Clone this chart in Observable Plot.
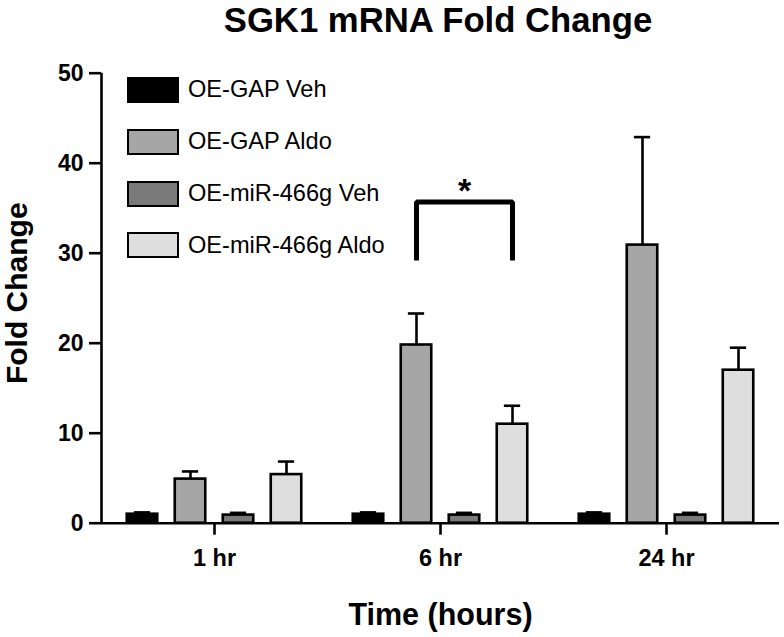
<!DOCTYPE html>
<html><head><meta charset="utf-8">
<script src="https://cdn.jsdelivr.net/npm/d3@7"></script>
<script src="https://cdn.jsdelivr.net/npm/@observablehq/plot@0.6"></script>
<style>
body{margin:0;background:#fff;font-family:"Liberation Sans",Arial,Helvetica,sans-serif;color:#000}
#wrap{position:relative;width:784px;height:637px;overflow:hidden}
#title{width:784px;height:44px;line-height:40px;font-size:34.7px;font-weight:bold;text-align:center;padding-left:92px;box-sizing:border-box;white-space:nowrap}
#legend{position:absolute;left:127px;top:0;width:320px;height:300px}
.row{position:absolute;left:0;height:26px;display:flex;align-items:center}
.sw{width:52px;height:26px;box-sizing:border-box;border:2.5px solid #000}
.lab{margin-left:9px;font-size:23.6px;white-space:nowrap}
svg{display:block}
</style></head>
<body>
<div id="wrap">
  <div id="title">SGK1 mRNA Fold Change</div>
  <div id="chart"></div>
  <div id="legend"></div>
</div>
<script>
// ---- data ----
const times = ["1 hr", "6 hr", "24 hr"];
const groups = ["OE-GAP Veh", "OE-GAP Aldo", "OE-miR-466g Veh", "OE-miR-466g Aldo"];
const colors = ["#000000", "#a6a6a6", "#7a7a7a", "#dedede"];

const meanGapVeh  = [1.0, 1.0, 1.0];
const meanGapAldo = [4.9, 19.8, 30.9];
const meanMirVeh  = [0.9, 0.9, 0.9];
const meanMirAldo = [5.4, 11.0, 17.0];

const upperGapVeh  = [1.2, 1.2, 1.2];
const upperGapAldo = [5.75, 23.3, 42.9];
const upperMirVeh  = [1.15, 1.15, 1.15];
const upperMirAldo = [6.85, 13.05, 19.5];

const yTicks = [0, 10, 20, 30, 40, 50];
const yDomain = [0, 50];

const sigTime = "6 hr";
const sigFrom = "OE-GAP Aldo";
const sigTo = "OE-miR-466g Aldo";
const sigTop = 35.7;
const sigBottom = 29.2;
const sigLabel = "*";

const xLabel = "Time (hours)";
const yLabel = "Fold Change";

// ---- layout ----
const step = 0.2124;      // distance between bar centres, in group units
const barHalf = 0.0675;   // half bar width
const capHalf = 0.036;    // half error-cap width
const xDomain = [0.5, times.length + 0.5];

const means = [meanGapVeh, meanGapAldo, meanMirVeh, meanMirAldo];
const uppers = [upperGapVeh, upperGapAldo, upperMirVeh, upperMirAldo];

const centre = (time, group) => times.indexOf(time) + 1 + (groups.indexOf(group) - (groups.length - 1) / 2) * step;

const rows = [];
times.forEach((t, ti) => groups.forEach((g, gi) => {
  rows.push({time: t, group: g, mean: means[gi][ti], upper: uppers[gi][ti], c: centre(t, g)});
}));

const bracket = [
  {x: centre(sigTime, sigFrom), y: sigBottom},
  {x: centre(sigTime, sigFrom), y: sigTop},
  {x: centre(sigTime, sigTo), y: sigTop},
  {x: centre(sigTime, sigTo), y: sigBottom}
];
const star = [{x: (centre(sigTime, sigFrom) + centre(sigTime, sigTo)) / 2, y: sigTop, label: sigLabel}];

const font = '"Liberation Sans", Arial, Helvetica, sans-serif';

const chart = Plot.plot({
  width: 784,
  height: 593,
  marginLeft: 101,
  marginRight: 5,
  marginTop: 28.7,
  marginBottom: 114.3,
  style: {fontFamily: font, color: "#000", background: "#fff", overflow: "visible"},
  x: {type: "linear", domain: xDomain},
  y: {domain: yDomain},
  color: {type: "ordinal", domain: groups, range: colors},
  marks: [
    Plot.rectY(rows, {x1: d => d.c - barHalf, x2: d => d.c + barHalf, y1: 0, y2: "mean", fill: "group", stroke: "#000", strokeWidth: 2.6}),
    Plot.ruleX(rows, {x: "c", y1: "mean", y2: "upper", stroke: "#000", strokeWidth: 2.6}),
    Plot.ruleY(rows, {y: "upper", x1: d => d.c - capHalf, x2: d => d.c + capHalf, stroke: "#000", strokeWidth: 2.6}),
    Plot.ruleY([yDomain[0]], {stroke: "#000", strokeWidth: 2.6}),
    Plot.ruleX([xDomain[0]], {y1: yDomain[0], y2: yDomain[1], stroke: "#000", strokeWidth: 2.6}),
    Plot.axisY({ticks: yTicks, tickSize: 12, tickPadding: 6, strokeWidth: 2.6, fontSize: 23, fontWeight: "bold", label: null}),
    Plot.axisX({ticks: times.map((t, i) => i + 1), tickFormat: d => times[d - 1], tickSize: 12, tickPadding: 14, strokeWidth: 2.6, fontSize: 23.5, fontWeight: "bold", label: null}),
    Plot.line(bracket, {x: "x", y: "y", stroke: "#000", strokeWidth: 5, strokeLinejoin: "miter", strokeLinecap: "butt"}),
    Plot.text(star, {x: "x", y: "y", text: "label", fontSize: 34, fontWeight: "bold", lineAnchor: "middle", dy: -11}),
    Plot.text([xLabel], {frameAnchor: "bottom", lineAnchor: "top", dy: 80, fontSize: 30.5, fontWeight: "bold"}),
    Plot.text([yLabel], {frameAnchor: "left", rotate: -90, lineAnchor: "middle", textAnchor: "middle", dx: -84.6, dy: -5, fontSize: 30, fontWeight: "bold"})
  ]
});
document.getElementById("chart").appendChild(chart);

// ---- legend ----
const rowCentres = [89.7, 141.5, 193.5, 245.3];
const legend = document.getElementById("legend");
groups.forEach((g, i) => {
  const r = document.createElement("div");
  r.className = "row";
  r.style.top = (rowCentres[i] - 13) + "px";
  const sw = document.createElement("div");
  sw.className = "sw";
  sw.style.background = colors[i];
  const lab = document.createElement("span");
  lab.className = "lab";
  lab.textContent = g;
  r.appendChild(sw);
  r.appendChild(lab);
  legend.appendChild(r);
});
</script>
</body></html>
